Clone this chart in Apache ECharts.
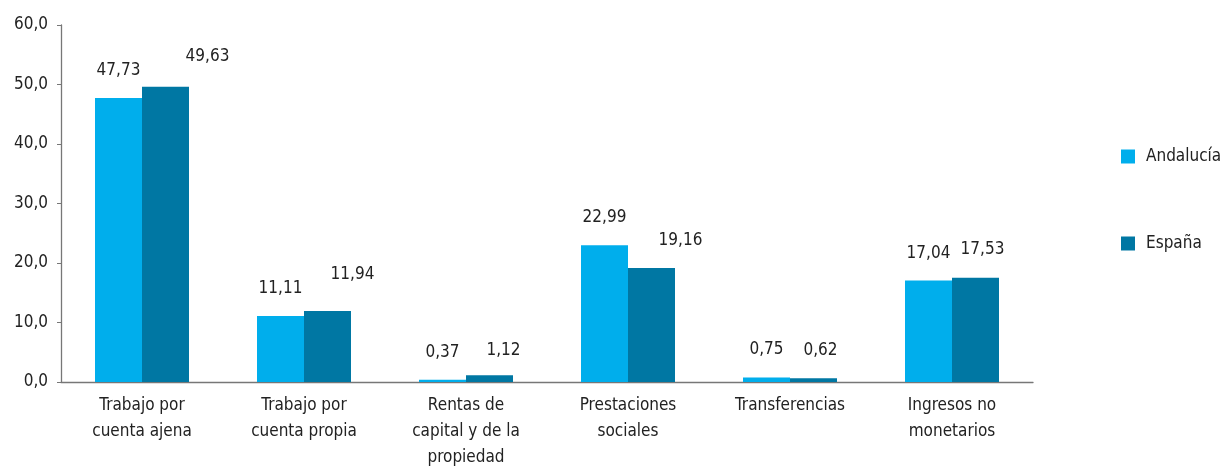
<!DOCTYPE html>
<html>
<head>
<meta charset="utf-8">
<script src="https://cdn.jsdelivr.net/npm/echarts@6/dist/echarts.min.js"></script>
<style>
html,body{margin:0;padding:0;background:#fff;}
#chart{width:1225px;height:471px;}
</style>
</head>
<body>
<div id="chart"></div>
<script>
const categories = [
  'Trabajo por\ncuenta ajena',
  'Trabajo por\ncuenta propia',
  'Rentas de\ncapital y de la\npropiedad',
  'Prestaciones\nsociales',
  'Transferencias',
  'Ingresos no\nmonetarios'
];
const seriesNames = ['Andalucía', 'España'];
const andalucia = [47.73, 11.11, 0.37, 22.99, 0.75, 17.04];
const espana = [49.63, 11.94, 1.12, 19.16, 0.62, 17.53];
const yTicks = [0, 10, 20, 30, 40, 50, 60];

// label placement tweaks (style, not data)
const espLabelOffsets = [[42,-3],[25,-9],[14,3],[29,0],[7,0],[7,-1]];

const FONT = '"DejaVu Sans Condensed", "Liberation Sans Narrow", "Roboto", sans-serif';
const fmt = v => v.toFixed(2).replace('.', ',');

const chart = echarts.init(document.getElementById('chart'), null, {renderer: 'canvas'});
chart.setOption({
  animation: false,
  textStyle: {fontFamily: FONT},
  grid: {left: 61, right: 192, top: 25, bottom: 87, containLabel: false},
  legend: {
    orient: 'vertical',
    left: 1116,
    top: 143,
    itemWidth: 14,
    itemHeight: 14,
    itemGap: 70,
    icon: 'rect',
    textStyle: {fontFamily: FONT, fontSize: 17, color: '#222', padding: [0,0,0,6]},
    data: seriesNames
  },
  xAxis: {
    type: 'category',
    data: categories,
    axisLine: {lineStyle: {color: '#777', width: 1.3}},
    axisTick: {show: false},
    axisLabel: {fontFamily: FONT, fontSize: 17, color: '#222', lineHeight: 26, margin: 11, interval: 0}
  },
  yAxis: {
    type: 'value',
    min: yTicks[0],
    max: yTicks[yTicks.length - 1],
    interval: 10,
    splitLine: {show: false},
    axisLine: {show: true, lineStyle: {color: '#777', width: 1.3}},
    axisTick: {show: true, length: 4, lineStyle: {color: '#777'}},
    axisLabel: {fontFamily: FONT, fontSize: 17, color: '#222', margin: 13,
      formatter: v => v.toFixed(1).replace('.', ',')}
  },
  series: [
    {
      name: seriesNames[0],
      type: 'bar',
      data: andalucia,
      barWidth: 47,
      barGap: '0%',
      itemStyle: {color: '#00AEEC'},
      label: {show: true, position: 'top', distance: 19, fontFamily: FONT, fontSize: 17, color: '#222',
        formatter: p => fmt(p.value)}
    },
    {
      name: seriesNames[1],
      type: 'bar',
      data: espana.map((v, i) => ({
        value: v,
        label: {offset: espLabelOffsets[i]}
      })),
      barWidth: 47,
      barGap: '0%',
      itemStyle: {color: '#0077A3'},
      label: {show: true, position: 'top', distance: 19, fontFamily: FONT, fontSize: 17, color: '#222',
        formatter: p => fmt(p.value)}
    }
  ]
});
</script>
</body>
</html>
